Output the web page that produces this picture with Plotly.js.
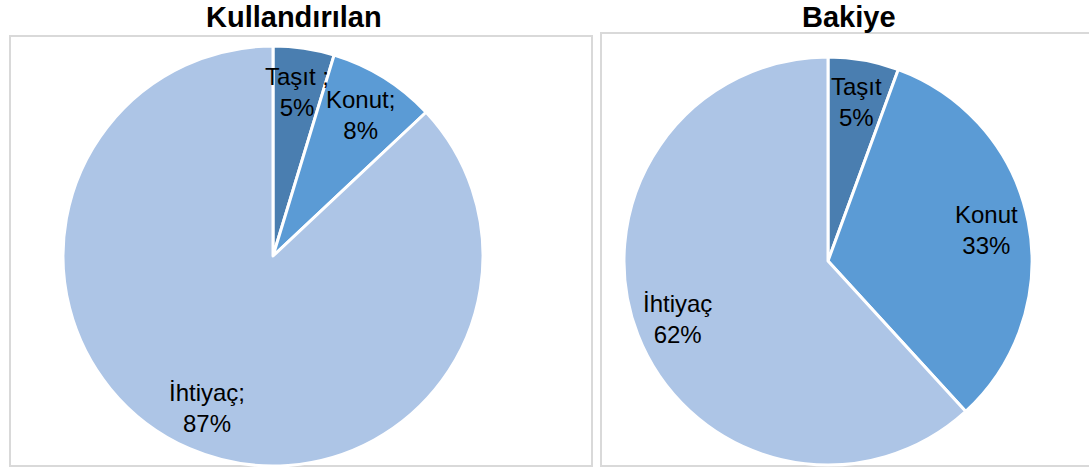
<!DOCTYPE html>
<html>
<head>
<meta charset="utf-8">
<script src="https://cdn.plot.ly/plotly-3.0.1.min.js"></script>
<style>html,body{margin:0;padding:0;background:#fff;}#chart{width:1089px;height:470px;}</style>
</head>
<body>
<div id="chart"></div>
<script>
// Data
const categories = ["Taşıt", "Konut", "İhtiyaç"];
const kullandirilanValues = [4.7, 8.3, 87.0];
const bakiyeValues = [5.6, 32.6, 61.8];
const kullandirilanLabels = ["Taşıt ;<br>5%", "Konut;<br>8%", "İhtiyaç;<br>87%"];
const bakiyeLabels = ["Taşıt<br>5%", "Konut<br>33%", "İhtiyaç<br>62%"];
const colors = ["#4A7EB0", "#5B9BD5", "#ADC5E6"];
const titles = ["Kullandırılan", "Bakiye"];

const W = 1089, H = 470;
// pie geometry in pixels (center x, center y from top, radius)
const pies = [
  {cx: 273, cy: 256, r: 210, values: kullandirilanValues, labels: kullandirilanLabels, title: titles[0], tx: 294},
  {cx: 828, cy: 261, r: 204, values: bakiyeValues, labels: bakiyeLabels, title: titles[1], tx: 849}
];

const traces = [];
const annotations = [];
pies.forEach((p, i) => {
  traces.push({
    type: 'pie',
    values: p.values,
    labels: categories,
    sort: false,
    direction: 'clockwise',
    rotation: 0,
    marker: {colors: colors, line: {color: '#ffffff', width: 3}},
    textinfo: 'none',
    hoverinfo: 'label+percent',
    showlegend: false,
    domain: {
      x: [(p.cx - p.r) / W, (p.cx + p.r) / W],
      y: [(H - p.cy - p.r) / H, (H - p.cy + p.r) / H]
    }
  });
  const total = p.values.reduce((a, b) => a + b, 0);
  let cum = 0;
  p.values.forEach((v, j) => {
    const mid = (cum + v / 2) / total * 2 * Math.PI;
    cum += v;
    const frac = 0.79;
    const px = p.cx + p.r * frac * Math.sin(mid);
    const py = p.cy - p.r * frac * Math.cos(mid);
    annotations.push({
      text: p.labels[j], x: px / W, y: 1 - py / H, xref: 'paper', yref: 'paper',
      showarrow: false, xanchor: 'center', yanchor: 'middle', align: 'center',
      font: {family: 'Liberation Sans, Arial, sans-serif', size: 24, color: '#000'}
    });
  });
  annotations.push({
    text: '<b>' + p.title + '</b>', x: p.tx / W, y: 1 - 17 / H, xref: 'paper', yref: 'paper',
    showarrow: false, xanchor: 'center', yanchor: 'middle',
    font: {family: 'Liberation Sans, Arial, sans-serif', size: 29, color: '#000'}
  });
});

const boxes = [[10, 36, 592, 466], [601, 33, 1100, 466]];
const shapes = boxes.map(b => ({
  type: 'rect', xref: 'paper', yref: 'paper',
  x0: b[0] / W, x1: b[2] / W, y0: 1 - b[3] / H, y1: 1 - b[1] / H,
  line: {color: '#D9D9D9', width: 2}, fillcolor: 'rgba(0,0,0,0)', layer: 'below'
}));

Plotly.newPlot('chart', traces, {
  width: W, height: H,
  margin: {l: 0, r: 0, t: 0, b: 0},
  paper_bgcolor: '#fff', plot_bgcolor: '#fff',
  annotations: annotations, shapes: shapes
}, {displayModeBar: false, staticPlot: true});
</script>
</body>
</html>
